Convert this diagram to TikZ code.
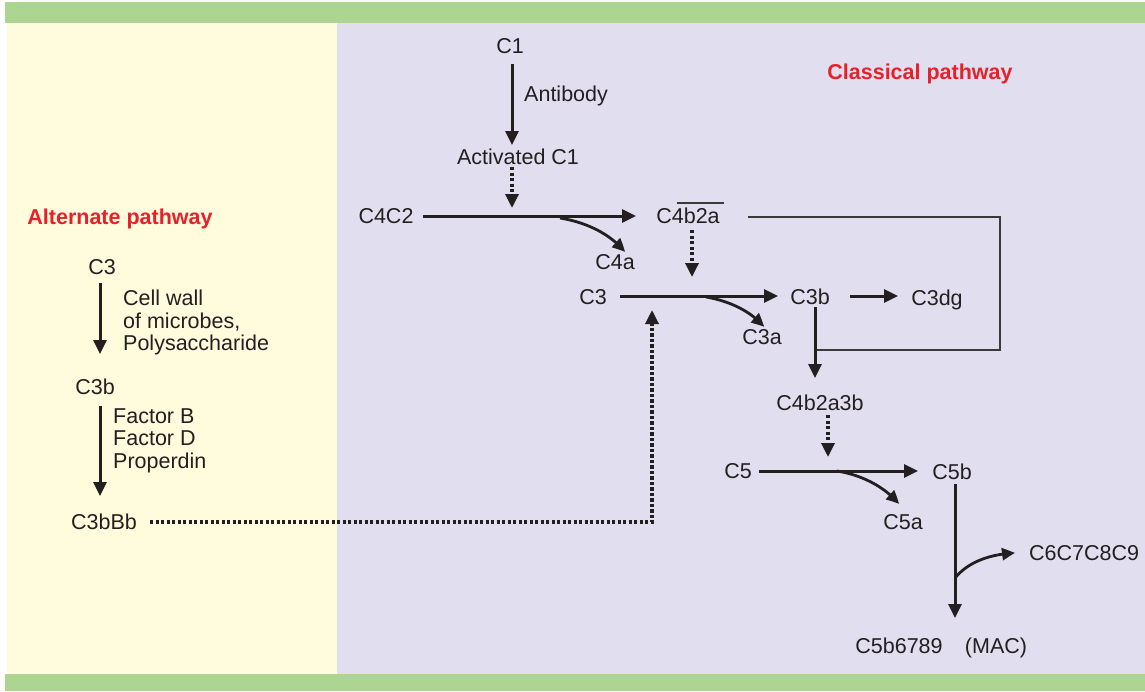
\documentclass[tikz,border=0pt]{standalone}
\usepackage{fontspec}
\setmainfont{Liberation Sans}
\usetikzlibrary{arrows.meta,bending}
\definecolor{gbar}{HTML}{ADD592}
\definecolor{ybg}{HTML}{FFFCDE}
\definecolor{lbg}{HTML}{E1DEEF}
\definecolor{redt}{HTML}{E8202A}
\definecolor{ink}{HTML}{231F20}
\definecolor{thin}{HTML}{3A3A3A}
\begin{document}
\begin{tikzpicture}[x=1pt,y=-1pt,
  lbl/.style={font=\fontsize{21.5}{23}\selectfont, text=ink, inner sep=0pt, text height=15.4pt, text depth=0pt},
  ttl/.style={font=\bfseries\fontsize{21.5}{23}\selectfont, text=redt, inner sep=0pt, text height=15.4pt, text depth=0pt},
  arr/.style={draw=ink, line width=3pt, -{Triangle[length=14pt,width=13pt]}},
  carr/.style={draw=ink, line width=2.8pt, -{Triangle[length=13pt,width=12pt,bend]}},
  darr/.style={draw=ink, line width=3.3pt, dash pattern=on 3.2pt off 2.3pt, -{Triangle[length=14pt,width=13pt]}},
  thinline/.style={draw=thin, line width=1.4pt}]
\useasboundingbox (0,0) rectangle (1145,691);
\fill[white] (0,0) rectangle (1145,691);
\fill[gbar] (5,2) rectangle (1145,23);
\fill[gbar] (5,674) rectangle (1145,691);
\fill[ybg] (7,23) rectangle (337,674);
\fill[lbg] (337,23) rectangle (1145,674);

% titles
\node[ttl] (tcl) at (920,72) {Classical pathway};
\node[ttl] (tal) at (120,217) {Alternate pathway};

% classical pathway nodes
\node[lbl] (c1) at (510,46) {C1};
\node[lbl, anchor=west] (ab) at (524,94) {Antibody};
\node[lbl] (act) at (518,157) {Activated C1};
\node[lbl] (c4c2) at (386,216) {C4C2};
\node[lbl] (c4b2a) at (688,216) {C4b2a};
\node[lbl] (c4a) at (615,262) {C4a};
\node[lbl] (c3) at (593,297) {C3};
\node[lbl] (c3b) at (810,297) {C3b};
\node[lbl] (c3dg) at (937,298) {C3dg};
\node[lbl] (c3a) at (762,337) {C3a};
\node[lbl] (c4b2a3b) at (820,403) {C4b2a3b};
\node[lbl] (c5) at (738,471) {C5};
\node[lbl] (c5b) at (952,472) {C5b};
\node[lbl] (c5a) at (903,522) {C5a};
\node[lbl, anchor=west] (c6) at (1029,553) {C6C7C8C9};
\node[lbl] (c5b6789) at (899,646) {C5b6789};
\node[lbl] (mac) at (996,646) {(MAC)};

% alternate pathway nodes
\node[lbl] (ac3) at (102,267) {C3};
\node[lbl, anchor=west] (cw1) at (123,298) {Cell wall};
\node[lbl, anchor=west] (cw2) at (123,321) {of microbes,};
\node[lbl, anchor=west] (cw3) at (123,343) {Polysaccharide};
\node[lbl] (ac3b) at (95,387) {C3b};
\node[lbl, anchor=west] (fb) at (113,416) {Factor B};
\node[lbl, anchor=west] (fd) at (113,438) {Factor D};
\node[lbl, anchor=west] (pr) at (113,461) {Properdin};
\node[lbl] (c3bbb) at (104,522) {C3bBb};

% overline of C4b2a
\draw[thinline, line width=1.2pt] ([shift={(-11,-13)}]c4b2a.center) -- ([shift={(36,-13)}]c4b2a.center);

% classical connectors
\draw[arr] ([shift={(2,18)}]c1.center) -- ([shift={(-6,-12)}]act.center);
\draw[darr] ([shift={(-6,10)}]act.center) -- ++(0,41);
\draw[arr] ([shift={(37,0)}]c4c2.center) -- ([shift={(-52,0)}]c4b2a.center);
\coordinate (j1) at (560,218);
\draw[carr] (j1) .. controls (590,223) and (612,236) .. ([shift={(10,-10)}]c4a.center);
\draw[darr] ([shift={(4,14)}]c4b2a.center) -- ++(0,47);
\coordinate (k1) at (1000,217);
\coordinate (k2) at (1000,350);
\coordinate (k3) at (815,350);
\draw[thinline] ([shift={(60,1)}]c4b2a.center) -- (k1) -- (k2) -- (k3);
\draw[arr] ([shift={(27,-1)}]c3.center) -- ([shift={(-32,-1)}]c3b.center);
\coordinate (j2) at (706,297);
\draw[carr] (j2) .. controls (730,301) and (752,312) .. ([shift={(2,-10)}]c3a.center);
\draw[arr] ([shift={(40,-1)}]c3b.center) -- ([shift={(-39,-2)}]c3dg.center);
\draw[arr] ([shift={(5,10)}]c3b.center) -- ([shift={(-5,-25)}]c4b2a3b.center);
\draw[darr] ([shift={(8,12)}]c4b2a3b.center) -- ++(0,42);
\draw[arr] ([shift={(21,0)}]c5.center) -- ([shift={(-34,-1)}]c5b.center);
\coordinate (j3) at (837,471);
\draw[carr] (j3) .. controls (862,475) and (885,487) .. ([shift={(-4,-18)}]c5a.center);
\draw[arr] ([shift={(3,12)}]c5b.center) -- ([shift={(56,-28)}]c5b6789.center);
\coordinate (j4) at (955,578);
\draw[carr] (j4) .. controls (968,562) and (990,554) .. ([shift={(-14,0)}]c6.west);

% alternate connectors
\draw[arr] ([shift={(-2,16)}]ac3.center) -- ([shift={(5,-33)}]ac3b.center);
\draw[arr] ([shift={(5,19)}]ac3b.center) -- ([shift={(-4,-26)}]c3bbb.center);
\draw[darr] ([shift={(46,0)}]c3bbb.center) -| ([shift={(59,13)}]c3.center);
\end{tikzpicture}
\end{document}
